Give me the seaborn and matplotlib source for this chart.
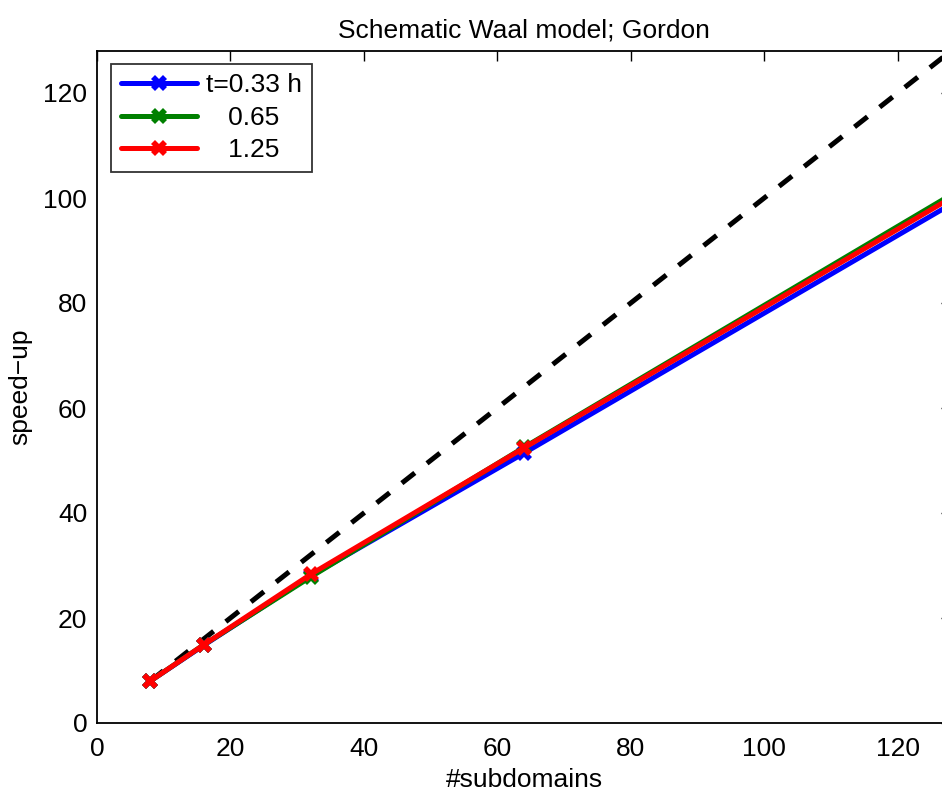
import numpy as np
import pandas as pd
import matplotlib
matplotlib.use("Agg")
import matplotlib.pyplot as plt
import seaborn as sns

# Number of subdomains and measured speed-up per simulated period
subdomains = [8, 16, 32, 64, 128]
speedup_033 = [8.0, 14.8, 28.0, 51.4, 98.8]
speedup_065 = [8.0, 14.9, 27.8, 52.5, 100.6]
speedup_125 = [8.0, 14.9, 28.3, 52.4, 100.0]
series_labels = ["t=0.33 h", "   0.65", "   1.25"]
series_colors = ["#0000ff", "#008000", "#ff0000"]
ideal = [8, 128]

x_ticks = [0, 20, 40, 60, 80, 100, 120]
y_ticks = [0, 20, 40, 60, 80, 100, 120]

sns.set_theme(style="white")
plt.rcParams["font.family"] = ["Liberation Sans", "DejaVu Sans"]
plt.rcParams["font.size"] = 19
plt.rcParams["text.color"] = "black"
plt.rcParams["axes.labelcolor"] = "black"

df = pd.DataFrame({
    "subdomains": subdomains * 3,
    "speedup": speedup_033 + speedup_065 + speedup_125,
    "run": [series_labels[0]] * 5 + [series_labels[1]] * 5 + [series_labels[2]] * 5,
})

fig = plt.figure(figsize=(9.42, 7.92), dpi=100)
ax = fig.add_axes([97 / 942, 69 / 792, 854 / 942, 672 / 792])

# ideal linear speed-up
sns.lineplot(x=ideal, y=ideal, ax=ax, color="black", linewidth=3.6,
             linestyle=(0, (3.3, 3.1)), legend=False)

sns.lineplot(data=df, x="subdomains", y="speedup", hue="run",
             hue_order=series_labels, palette=series_colors, ax=ax,
             linewidth=3.6, marker="X", markersize=11, markeredgewidth=0,
             dashes=False, sort=False)

ax.set_xlim(0, 128)
ax.set_ylim(0, 128)
ax.set_xticks(x_ticks)
ax.set_yticks(y_ticks)
ax.tick_params(direction="in", length=7, width=1, top=True, right=True,
               labelsize=19, colors="black", pad=7)
ax.tick_params(axis="x", pad=10)
for s in ax.spines.values():
    s.set_color("black")
    s.set_linewidth(1.3)

ax.set_xlabel("#subdomains", fontsize=19, labelpad=5)
ax.set_ylabel("speed\u2212up", fontsize=19, labelpad=8)
ax.set_title("Schematic Waal model; Gordon", fontsize=19, pad=10)

leg = ax.legend(loc="upper left", bbox_to_anchor=(0.0164, 0.9807), fontsize=19,
                frameon=True, fancybox=False, edgecolor="black",
                handlelength=2.9, borderpad=0.36, labelspacing=0.32,
                handletextpad=0.35, borderaxespad=0)
leg.get_frame().set_linewidth(1.3)

fig.savefig("out.png", dpi=100)
